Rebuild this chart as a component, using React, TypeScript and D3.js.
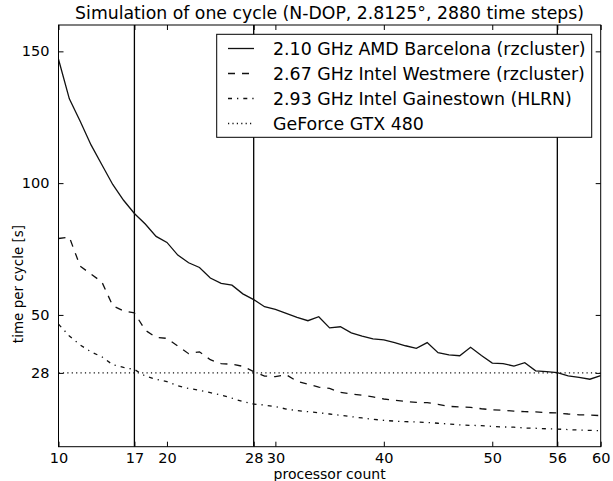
import React, { useEffect, useRef } from 'react';
import * as d3 from 'd3';

// processor counts on the x axis
const procs = [10, 11, 12, 13, 14, 15, 16, 17, 18, 19, 20, 21, 22, 23, 24, 25, 26, 27, 28, 29, 30,
  31, 32, 33, 34, 35, 36, 37, 38, 39, 40, 41, 42, 43, 44, 45, 46, 47, 48, 49, 50,
  51, 52, 53, 54, 55, 56, 57, 58, 59, 60];

// time per cycle [s]
const amdBarcelona = [147, 132, 123.5, 114.5, 107, 99.5, 93.5, 88.5, 84.5, 79.8, 77.5, 72.7, 69.8, 68, 64, 62, 61.3, 58, 55.8, 53.1, 52.1,
  50.6, 49.1, 47.8, 49.3, 45.1, 45.5, 43.2, 42, 40.9, 40.5, 39.5, 38.3, 37.3, 39.5, 35.7, 34.8, 34.5, 37.7, 34.6, 31.7,
  31.5, 30.6, 31.9, 28.8, 28.5, 28.1, 26.9, 26.3, 25.6, 27];
const intelWestmere = [79, 79.5, 68.5, 65.5, 62.5, 53.5, 51.5, 50.8, 44.2, 41.5, 41.1, 38.2, 35.3, 36, 33, 31.5, 31.3, 30.5, 28.5, 26.8, 26.6,
  27.3, 24.8, 23.7, 22.6, 22.1, 20.6, 20.0, 19.5, 18.9, 18.1, 17.6, 17.2, 16.8, 16.7, 16.1, 15.3, 15.1, 14.9, 14.4, 14.0,
  13.8, 13.5, 13.3, 13.2, 12.9, 12.8, 12.4, 12.1, 12.0, 11.8];
const intelGainestown = [46.5, 42, 38.6, 36, 34.1, 31.1, 30.1, 29.3, 26.8, 25.6, 24.7, 23.1, 22.1, 21.4, 20.5, 19.6, 18.4, 17.1, 16.2, 15.8, 15.2,
  14.3, 13.7, 13.3, 12.9, 12.4, 11.9, 11.4, 10.9, 10.4, 10.0, 9.7, 9.5, 9.4, 9.2, 8.9, 8.6, 8.3, 8.1, 8.0, 7.7,
  7.5, 7.4, 7.1, 7.0, 6.8, 6.7, 6.5, 6.3, 6.2, 6.1];
const gpuTime = 28;

const markers = [17, 28, 56];
const xTicks = [10, 17, 20, 28, 30, 40, 50, 56, 60];
const yTicks = [28, 50, 100, 150];
const labels = [
  '2.10 GHz AMD Barcelona (rzcluster)',
  '2.67 GHz Intel Westmere (rzcluster)',
  '2.93 GHz Intel Gainestown (HLRN)',
  'GeForce GTX 480',
];

const W = 613, H = 481;
const left = 58.5, right = 600.7, top = 25, bottom = 446.7;
const font = 'DejaVu Sans';
const ink = '#111';
const dashes = [null, '7,7', '4,5,1.3,5', '1.2,3.2'];

function drawChart(node: SVGSVGElement) {
  const svg = d3.select(node);
  svg.selectAll('*').remove();

  const x = d3.scaleLinear().domain([10, 60]).range([left, right]);
  const y = d3.scaleLinear().domain([0, 160]).range([bottom, top]);

  svg.append('rect').attr('width', W).attr('height', H).attr('fill', 'white');

  svg.append('defs').append('clipPath').attr('id', 'plot-clip')
    .append('rect')
    .attr('x', left).attr('y', top)
    .attr('width', right - left).attr('height', bottom - top);

  const plot = svg.append('g').attr('clip-path', 'url(#plot-clip)');

  // vertical marker lines
  plot.selectAll('line.marker')
    .data(markers)
    .enter().append('line')
    .attr('class', 'marker')
    .attr('x1', d => x(d)).attr('x2', d => x(d))
    .attr('y1', top).attr('y2', bottom)
    .attr('stroke', '#000')
    .attr('stroke-width', 1.3);

  const series = [amdBarcelona, intelWestmere, intelGainestown];
  const line = d3.line<number>()
    .x((d, i) => x(procs[i]))
    .y(d => y(d));

  series.forEach((s, k) => {
    plot.append('path')
      .datum(s)
      .attr('d', line)
      .attr('fill', 'none')
      .attr('stroke', ink)
      .attr('stroke-width', 1.3)
      .attr('stroke-dasharray', dashes[k]);
  });

  // GPU reference
  plot.append('line')
    .attr('x1', x(10)).attr('x2', x(60))
    .attr('y1', y(gpuTime)).attr('y2', y(gpuTime))
    .attr('stroke', ink)
    .attr('stroke-width', 1.3)
    .attr('stroke-dasharray', dashes[3]);

  // axes, ticks pointing inward on all four sides
  const bottomAxis = svg.append('g')
    .attr('transform', 'translate(0,' + bottom + ')')
    .call(d3.axisBottom(x).tickValues(xTicks).tickSizeInner(-5).tickSizeOuter(0).tickPadding(6));
  const leftAxis = svg.append('g')
    .attr('transform', 'translate(' + left + ',0)')
    .call(d3.axisLeft(y).tickValues(yTicks).tickSizeInner(-5).tickSizeOuter(0).tickPadding(9));
  const topAxis = svg.append('g')
    .attr('transform', 'translate(0,' + top + ')')
    .call(d3.axisTop(x).tickValues(xTicks).tickSizeInner(-5).tickSizeOuter(0).tickFormat(() => ''));
  const rightAxis = svg.append('g')
    .attr('transform', 'translate(' + right + ',0)')
    .call(d3.axisRight(y).tickValues(yTicks).tickSizeInner(-5).tickSizeOuter(0).tickFormat(() => ''));

  [bottomAxis, leftAxis, topAxis, rightAxis].forEach(g => {
    g.select('.domain').remove();
    g.selectAll('line').attr('stroke', '#000').attr('stroke-width', 1);
    g.selectAll('text')
      .attr('font-family', font)
      .attr('font-size', 14.5)
      .attr('fill', '#000');
  });

  // frame
  svg.append('rect')
    .attr('x', left).attr('y', top)
    .attr('width', right - left).attr('height', bottom - top)
    .attr('fill', 'none')
    .attr('stroke', '#000')
    .attr('stroke-width', 1);

  svg.append('text')
    .attr('x', (left + right) / 2).attr('y', 19)
    .attr('text-anchor', 'middle')
    .attr('font-family', font).attr('font-size', 17.3)
    .text('Simulation of one cycle (N-DOP, 2.8125°, 2880 time steps)');

  svg.append('text')
    .attr('x', (left + right) / 2).attr('y', 479)
    .attr('text-anchor', 'middle')
    .attr('font-family', font).attr('font-size', 14)
    .text('processor count');

  svg.append('text')
    .attr('transform', 'translate(23,284) rotate(-90)')
    .attr('text-anchor', 'middle')
    .attr('font-family', font).attr('font-size', 13.5)
    .text('time per cycle [s]');

  // legend
  const legend = svg.append('g');
  legend.append('rect')
    .attr('x', 216.7).attr('y', 34.3)
    .attr('width', 375).attr('height', 103)
    .attr('fill', 'white')
    .attr('stroke', '#000')
    .attr('stroke-width', 1);

  const rows = legend.selectAll('g.row')
    .data(labels)
    .enter().append('g')
    .attr('class', 'row')
    .attr('transform', (d, i) => 'translate(0,' + (48.5 + i * 25) + ')');

  rows.append('line')
    .attr('x1', 228).attr('x2', 254)
    .attr('stroke', ink)
    .attr('stroke-width', 1.3)
    .attr('stroke-dasharray', (d, i) => dashes[i]);

  rows.append('text')
    .attr('x', 273)
    .attr('dy', '0.35em')
    .attr('font-family', font).attr('font-size', 17.4)
    .text(d => d);
}

export default function App() {
  const ref = useRef<SVGSVGElement>(null);

  useEffect(() => {
    if (ref.current) drawChart(ref.current);
  }, []);

  return (
    <svg ref={ref} width={W} height={H}
      style={{ position: 'absolute', left: 0, top: 0, display: 'block' }} />
  );
}
